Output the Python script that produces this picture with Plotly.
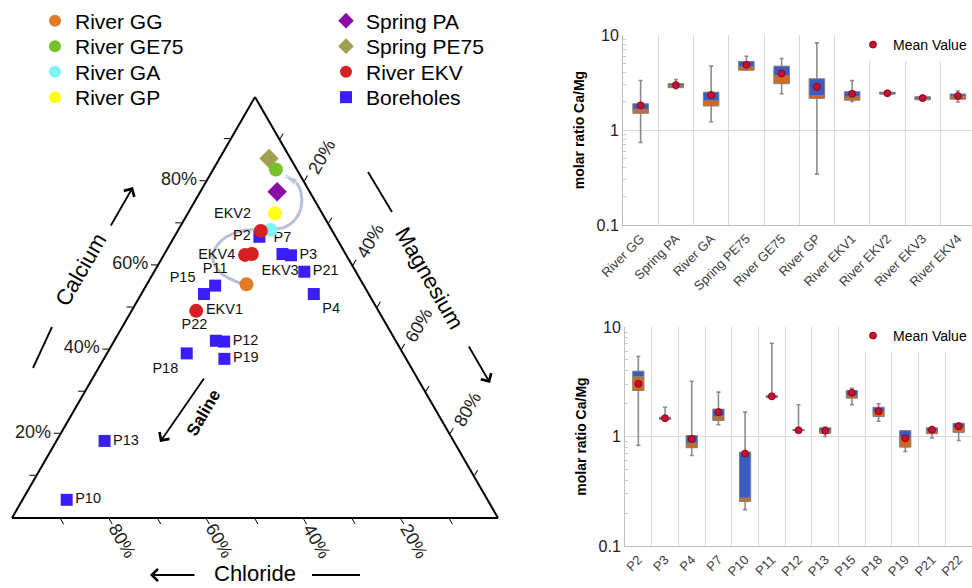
import plotly.graph_objects as go

FONT = "Arial, Liberation Sans, sans-serif"

# ---------------- Ternary data (percent) ----------------
groups = ["River GG", "River GE75", "River GA", "River GP",
          "Spring PA", "Spring PE75", "River EKV", "Boreholes"]
ca = {
    "River GG": [55.5], "River GE75": [82.8], "River GA": [68.4], "River GP": [72.4],
    "Spring PA": [77.5], "Spring PE75": [85.4],
    "River EKV": [49.2, 68.2, 62.7, 62.5],
    "Boreholes": [66.8, 62.4, 53.2, 62.7, 4.3, 55.2, 41.9, 18.3, 53.2, 39.1, 37.8, 58.5, 42.1],
}
cl = {
    "River GG": [24.0], "River GE75": [4.3], "River GA": [12.6], "River GP": [9.7],
    "Spring PA": [6.7], "Spring PE75": [4.4],
    "River EKV": [37.5, 14.7, 19.3, 20.8],
    "Boreholes": [15.7, 11.4, 11.3, 13.0, 86.6, 30.6, 35.4, 71.8, 33.9, 44.5, 37.4, 10.6, 37.0],
}
mg = {
    "River GG": [20.5], "River GE75": [12.9], "River GA": [19.0], "River GP": [17.9],
    "Spring PA": [15.8], "Spring PE75": [10.2],
    "River EKV": [13.3, 17.1, 18.0, 16.7],
    "Boreholes": [17.5, 26.2, 35.5, 24.3, 9.1, 14.2, 22.7, 9.9, 12.9, 16.4, 24.8, 30.9, 20.9],
}
point_labels = {
    "River EKV": ["EKV1", "EKV2", "EKV3", "EKV4"],
    "Boreholes": ["P2", "P3", "P4", "P7", "P10", "P11", "P12", "P13", "P15", "P18", "P19", "P21", "P22"],
}
# flow path (Ca, Cl, Mg) decoration
path_ca = [55.8, 58.4, 62.2, 66.0, 68.2, 68.6, 69.1, 72.0, 76.2, 79.8, 81.2]
path_cl = [25.2, 28.0, 27.6, 23.8, 18.6, 13.7, 9.3, 5.1, 2.3, 1.7, 3.2]
path_mg = [19.0, 13.6, 10.2, 10.2, 13.2, 17.7, 21.6, 22.9, 21.5, 18.5, 15.6]

# ternary tick labels
tick_vals = [10, 20, 30, 40, 50, 60, 70, 80, 90]
tick_text = ["", "20%", "", "40%", "", "60%", "", "80%", ""]

# ---------------- Box data ----------------
cats_top = ["River GG", "Spring PA", "River GA", "Spring PE75", "River GE75",
            "River GP", "River EKV1", "River EKV2", "River EKV3", "River EKV4"]
top_min = [0.74, 2.72, 1.22, 4.26, 2.41, 0.343, 2.00, 2.36, 2.02, 1.97]
top_q1 = [1.50, 2.79, 1.79, 4.26, 3.07, 2.15, 2.06, 2.38, 2.08, 2.11]
top_median = [1.65, 2.94, 2.05, 4.63, 3.75, 2.31, 2.24, 2.45, 2.17, 2.27]
top_q3 = [1.89, 3.07, 2.50, 5.26, 4.70, 3.46, 2.53, 2.50, 2.24, 2.39]
top_max = [3.32, 3.40, 4.70, 5.98, 5.65, 8.26, 3.32, 2.52, 2.28, 2.57]
top_mean = [1.82, 2.97, 2.33, 4.85, 3.94, 2.85, 2.41, 2.44, 2.17, 2.28]

cats_bot = ["P2", "P3", "P4", "P7", "P10", "P11", "P12", "P13", "P15", "P18", "P19", "P21", "P22"]
bot_min = [0.83, 1.42, 0.67, 1.28, 0.215, 2.20, 1.12, 1.00, 1.95, 1.38, 0.73, 0.97, 0.92]
bot_q1 = [2.63, 1.43, 0.79, 1.40, 0.255, 2.26, 1.13, 1.07, 2.24, 1.52, 0.80, 1.06, 1.09]
bot_median = [3.53, 1.46, 0.87, 1.52, 0.275, 2.31, 1.14, 1.13, 2.37, 1.69, 0.97, 1.12, 1.20]
bot_q3 = [3.95, 1.50, 1.02, 1.78, 0.72, 2.37, 1.16, 1.20, 2.63, 1.85, 1.13, 1.20, 1.32]
bot_max = [5.38, 1.85, 3.20, 2.54, 1.67, 7.11, 1.95, 1.22, 2.76, 1.99, 1.13, 1.23, 1.33]
bot_mean = [3.03, 1.47, 0.95, 1.67, 0.70, 2.33, 1.14, 1.13, 2.51, 1.70, 0.965, 1.15, 1.24]

# ---------------- Styles ----------------
styles = {
    "River GG": dict(symbol="circle", color="#E07B28", size=14, slot=(0, 0)),
    "River GE75": dict(symbol="circle", color="#77C12A", size=14, slot=(0, 1)),
    "River GA": dict(symbol="circle", color="#80F5F5", size=14, slot=(0, 2)),
    "River GP": dict(symbol="circle", color="#FFFF1A", size=14, slot=(0, 3)),
    "Spring PA": dict(symbol="diamond", color="#8B0DA8", size=15, slot=(1, 0)),
    "Spring PE75": dict(symbol="diamond", color="#A0A050", size=15, slot=(1, 1)),
    "River EKV": dict(symbol="circle", color="#D42020", size=14, slot=(1, 2)),
    "Boreholes": dict(symbol="square", color="#3A1EF5", size=12, slot=(1, 3)),
}
text_pos = {
    "EKV1": "middle right", "EKV2": "top left", "EKV3": "bottom right", "EKV4": "middle left",
    "P2": "middle left", "P3": "middle right", "P4": "bottom right", "P7": "top center",
    "P10": "middle right", "P11": "top center", "P12": "middle right", "P13": "middle right",
    "P15": "top left", "P18": "bottom left", "P19": "middle right", "P21": "middle right",
    "P22": "top left",
}

W, H = 972, 588
TRI_L, TRI_R, TRI_B, TRI_T = 12, 498, 518, 97  # triangle box in pixels


def px(x):
    return x / W


def py(y):
    return 1 - y / H


fig = go.Figure()

# flow path arrow
fig.add_trace(go.Scatterternary(
    a=path_ca, b=path_cl, c=path_mg, mode="lines+markers",
    line=dict(color="#B7C2DA", width=3, shape="spline"),
    marker=dict(symbol="arrow", angleref="previous",
                size=[0] * (len(path_ca) - 1) + [13], color="#B7C2DA"),
    showlegend=False, hoverinfo="skip"))

draw_order = ["Boreholes", "River GG", "River GA", "River GP", "Spring PA",
              "Spring PE75", "River GE75", "River EKV"]
legend_layouts = {}
for i, g in enumerate(draw_order):
    st = styles[g]
    labels = point_labels.get(g)
    lname = "legend" if i == 0 else "legend%d" % (i + 3)
    col, row = st["slot"]
    legend_layouts[lname] = dict(
        x=px([35, 326][col]), y=py([21, 46.5, 72, 97.5][row]), xanchor="left", yanchor="middle",
        bgcolor="rgba(0,0,0,0)", font=dict(size=21, color="black", family=FONT),
        itemsizing="constant")
    fig.add_trace(go.Scatterternary(
        a=ca[g], b=cl[g], c=mg[g], name=g,
        mode="markers+text" if labels else "markers",
        text=labels,
        textposition=[text_pos[t] for t in labels] if labels else None,
        textfont=dict(size=14.5, color="#111111", family=FONT),
        marker=dict(symbol=st["symbol"], color=st["color"], size=st["size"], line=dict(width=0)),
        legend=lname, cliponaxis=False))


def add_boxes(cats, lo, q1, med, q3, hi, mean, xa, ya, leg, width):
    xref_axis = dict(xaxis=xa, yaxis=ya)
    fig.add_trace(go.Bar(
        x=cats, base=lo, y=[h - l for h, l in zip(hi, lo)], width=0.01,
        marker=dict(color="rgba(0,0,0,0)", line=dict(width=0)),
        error_y=dict(type="data", symmetric=False, array=[0] * len(cats),
                     arrayminus=[h - l for h, l in zip(hi, lo)],
                     color="#8c8c8c", thickness=1.6, width=2),
        showlegend=False, hoverinfo="skip", **xref_axis))
    fig.add_trace(go.Bar(
        x=cats, base=q1, y=[m - a for m, a in zip(med, q1)], width=width,
        marker=dict(color="#D2691E", line=dict(color="#7f7f7f", width=1)),
        showlegend=False, **xref_axis))
    fig.add_trace(go.Bar(
        x=cats, base=med, y=[b - m for b, m in zip(q3, med)], width=width,
        marker=dict(color="#3B5BC4", line=dict(color="#7f7f7f", width=1)),
        showlegend=False, **xref_axis))
    fig.add_trace(go.Scatter(
        x=cats, y=mean, mode="markers", name="Mean Value",
        marker=dict(color="#C8102E", size=7, line=dict(color="#7a0010", width=0.8)),
        legend=leg, **xref_axis))


add_boxes(cats_top, top_min, top_q1, top_median, top_q3, top_max, top_mean, "x", "y", "legend2", 0.44)
add_boxes(cats_bot, bot_min, bot_q1, bot_median, bot_q3, bot_max, bot_mean, "x2", "y2", "legend3", 0.42)

axis_common = dict(tickmode="array", tickvals=tick_vals, ticktext=tick_text,
                   ticks="outside", ticklen=6, tickwidth=1.2, tickcolor="black",
                   linecolor="black", linewidth=2, showgrid=False, min=0,
                   tickfont=dict(size=18, color="#222222", family=FONT), title=dict(text=""))

ycommon = dict(type="log", range=[-1, 1], tickmode="array", tickvals=[0.1, 1, 10],
               ticktext=["0.1", "1", "10"], showgrid=True, gridcolor="#d9d9d9", gridwidth=1,
               showline=True, linecolor="#bfbfbf", linewidth=1, ticks="", zeroline=False,
               tickfont=dict(size=16, color="#222222", family=FONT),
               title=dict(text="<b>molar ratio Ca/Mg</b>", font=dict(size=14, color="black", family=FONT),
                          standoff=8),
               minor=dict(tickvals=[0.2, 0.3, 0.4, 0.5, 0.6, 0.7, 0.8, 0.9,
                                    2, 3, 4, 5, 6, 7, 8, 9],
                          ticks="inside", ticklen=3, tickcolor="#c8c8c8", showgrid=False))
xcommon = dict(type="category", tickson="boundaries", showgrid=True, gridcolor="#d9d9d9",
               showline=True, linecolor="#bfbfbf", ticks="", tickangle=-45,
               tickfont=dict(size=13, color="#404040", family=FONT))

fig.update_layout(
    width=W, height=H, margin=dict(l=0, r=0, t=0, b=0, autoexpand=False),
    paper_bgcolor="white", plot_bgcolor="white",
    font=dict(family=FONT, color="black"),
    barmode="overlay",
    ternary=dict(
        sum=100, bgcolor="white",
        domain=dict(x=[px(TRI_L), px(TRI_R)], y=[py(TRI_B), py(TRI_T)]),
        aaxis=dict(axis_common, tickangle=0),
        baxis=dict(axis_common, showticklabels=False),
        caxis=dict(axis_common, tickangle=-60),
    ),
    xaxis=dict(xcommon, domain=[px(623), 1], range=[-0.5, 9.4], anchor="y"),
    yaxis=dict(ycommon, domain=[py(225), py(35)], anchor="x"),
    xaxis2=dict(xcommon, domain=[px(625), 1], range=[-0.5, 12.5], anchor="y2"),
    yaxis2=dict(ycommon, domain=[py(546), py(327)], anchor="x2"),
    legend2=dict(x=1, y=py(45), xanchor="right", yanchor="middle", bgcolor="white",
                 font=dict(size=14, color="black", family=FONT), itemwidth=30),
    legend3=dict(x=1, y=py(336), xanchor="right", yanchor="middle", bgcolor="white",
                 font=dict(size=14, color="black", family=FONT), itemwidth=30),
)
fig.update_layout(**legend_layouts)

ann = []
# Chloride (b-axis) tick labels, placed just below each tick on the base of the triangle
for v, t in zip(tick_vals, tick_text):
    if t:
        tx = TRI_L + (100 - v) / 100 * (TRI_R - TRI_L)
        ann.append(dict(x=px(tx + 13), y=py(TRI_B + 23), text=t, textangle=60,
                        font=dict(size=18, color="#222222")))
# axis titles
ann.append(dict(x=px(80), y=py(270), text="Calcium", textangle=-60, font=dict(size=22)))
ann.append(dict(x=px(430), y=py(278), text="Magnesium", textangle=60, font=dict(size=22)))
ann.append(dict(x=px(255), y=0, yanchor="bottom", text="Chloride", font=dict(size=22)))
ann.append(dict(x=px(204), y=py(413), text="<b>Saline</b>", textangle=-60, font=dict(size=17)))
# arrows
arrows = [((133, 187), (110, 227)), ((490, 383), (468, 345)),
          ((150, 575), (196, 575)), ((160, 442), (205, 377))]
for (hx, hy), (tx, ty) in arrows:
    ann.append(dict(x=px(hx), y=py(hy), ax=tx - hx, ay=ty - hy, text="", showarrow=True,
                    arrowhead=4, arrowsize=1.3, arrowwidth=1.8, arrowcolor="black",
                    xref="paper", yref="paper"))
for a in ann:
    a.setdefault("xref", "paper")
    a.setdefault("yref", "paper")
    a.setdefault("showarrow", False)
    a.setdefault("xanchor", "center")
    a.setdefault("yanchor", "middle")
    if "font" in a:
        a["font"].setdefault("family", FONT)
        a["font"].setdefault("color", "black")
fig.update_layout(annotations=ann)

lines = [((52, 327), (33, 368)), ((368, 172), (392, 212)), ((312, 575), (360, 575))]
for (x0, y0), (x1, y1) in lines:
    fig.add_shape(type="line", xref="paper", yref="paper", x0=px(x0), y0=py(y0),
                  x1=px(x1), y1=py(y1), line=dict(color="black", width=1.8))

fig.write_html("out.html")
